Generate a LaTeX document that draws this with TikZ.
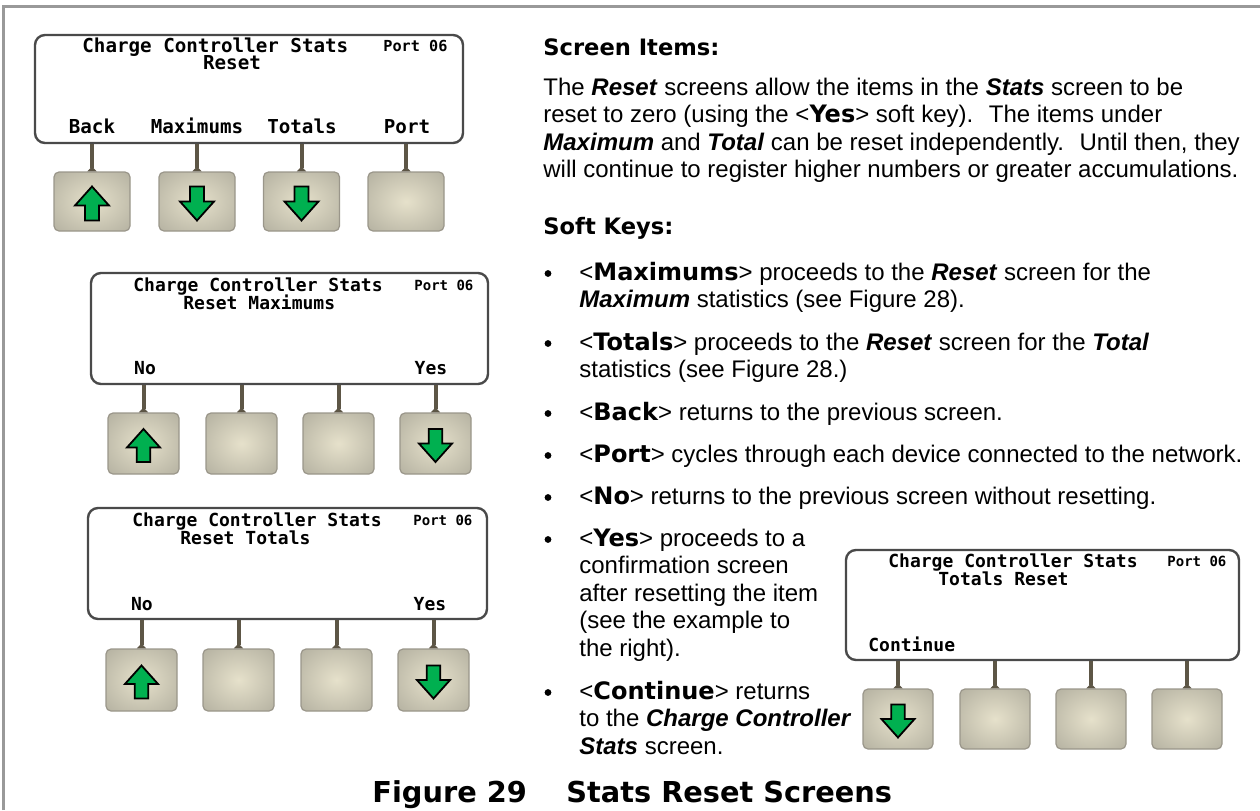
\documentclass[tikz,border=0pt]{standalone}
\usepackage{fontspec}
\setmainfont{Liberation Sans}
\newfontfamily\heavyfont{DejaVu Sans}
\newfontfamily\lcdfont{DejaVu Sans Mono}
\usetikzlibrary{positioning,arrows.meta}
\definecolor{keygray}{HTML}{B1AE9E}
\definecolor{keyglow}{HTML}{E6E1CB}
\definecolor{keyline}{HTML}{9A968A}
\definecolor{stemcol}{HTML}{5D5646}
\definecolor{arrgreen}{HTML}{00B050}
\definecolor{framegray}{HTML}{999999}
\definecolor{lcdline}{HTML}{4A4A4A}
\newcommand{\sk}[1]{<{\heavyfont\bfseries #1}>}
\newcommand{\bi}[1]{\textbf{\textit{#1}}}
\pgfdeclareradialshading{keyshade}{\pgfpoint{0bp}{0bp}}{color(0bp)=(keyglow); color(38bp)=(keygray); color(50bp)=(keygray)}

\begin{document}
\begin{tikzpicture}[x=0.5pt,y=-0.5pt,
  screen/.style={draw=lcdline,line width=1.2pt,rounded corners=5pt,fill=white,inner sep=0pt},
  softkey/.style={draw=keyline,line width=0.6pt,rounded corners=2.5pt,shade,shading=keyshade,inner sep=0pt},
  lcd/.style={font=\lcdfont\bfseries\fontsize{9pt}{10pt}\selectfont,inner sep=0pt},
  lcdbig/.style={font=\lcdfont\bfseries\fontsize{9.6pt}{10pt}\selectfont,inner sep=0pt},
  lcdport/.style={font=\lcdfont\bfseries\fontsize{7pt}{8pt}\selectfont,inner sep=0pt,anchor=base west},
  keystem/.style={draw=stemcol,line width=2pt,-{Triangle[reversed,width=4.5pt,length=2.5pt]}},
  bodytxt/.style={font=\fontsize{12pt}{13.75pt}\selectfont,align=left,inner sep=0pt,anchor=base west},
  headtxt/.style={font=\heavyfont\bfseries\fontsize{11.3pt}{13pt}\selectfont,inner sep=0pt,anchor=base west},
  capt/.style={font=\heavyfont\bfseries\fontsize{14.4pt}{16pt}\selectfont,inner sep=0pt,anchor=base west},
  uparr/.pic={\draw[fill=arrgreen,line width=0.9pt,line join=miter]
    (0,-17) -- (17,2) -- (7,2) -- (7,17) -- (-7,17) -- (-7,2) -- (-17,2) -- cycle;},
  dnarr/.pic={\draw[fill=arrgreen,line width=0.9pt,line join=miter]
    (0,17) -- (17,-2) -- (7,-2) -- (7,-17) -- (-7,-17) -- (-7,-2) -- (-17,-2) -- cycle;}]
  \useasboundingbox (0,0) rectangle (1260,810);
  \draw[framegray,line width=1.5pt] (3.5,810) -- (3.5,6.5) -- (1260,6.5);

  % Reset screen
  \node[screen,minimum width=214pt,minimum height=54pt] (scrA) at (249,89) {};
  \node[lcdbig,anchor=base west] (tA) at (82,52) {Charge Controller Stats};
  \node[lcdport,font=\lcdfont\bfseries\fontsize{7.6pt}{8pt}\selectfont] (pA) at (383,51) {Port 06};
  \node[lcdbig,anchor=base] (rA) at (232,69) {Reset};
  \node[lcdbig,anchor=base] (lA1) at (92,133) {Back};
  \node[lcdbig,anchor=base] (lA2) at (197,133) {Maximums};
  \node[lcdbig,anchor=base] (lA3) at (302,133) {Totals};
  \node[lcdbig,anchor=base] (lA4) at (407,133) {Port};
  \foreach \x [count=\i] in {92,197,301.5,406}
    \node[softkey,minimum width=38pt,minimum height=29.5pt] (kA\i) at (\x,201.5) {};
  \foreach \i in {1,...,4}
    \draw[keystem] (kA\i |- scrA.south) -- (kA\i.north);
  \pic at ([yshift=-1pt]kA1.center) {uparr};
  \pic at ([yshift=-1pt]kA2.center) {dnarr};
  \pic at ([yshift=-1pt]kA3.center) {dnarr};

  % Reset Maximums screen
  \node[screen,minimum width=198.5pt,minimum height=55.5pt] (scrB) at (289.5,328.5) {};
  \node[lcd,anchor=base west] (tB) at (133,291) {Charge Controller Stats};
  \node[lcdport] (pB) at (414,290) {Port 06};
  \node[lcd,anchor=base west] (rB) at (183,309) {Reset Maximums};
  \node[lcd,anchor=base] (lB1) at (145,374) {No};
  \node[lcd,anchor=base] (lB4) at (431,374) {Yes};
  \foreach \x [count=\i] in {143.5,241.5,338.5,435.5}
    \node[softkey,minimum width=35.5pt,minimum height=30.5pt] (kB\i) at (\x,443.5) {};
  \foreach \i in {1,...,4}
    \draw[keystem] (kB\i |- scrB.south) -- (kB\i.north);
  \pic[scale=0.97] at ([yshift=-1pt]kB1.center) {uparr};
  \pic[scale=0.97] at ([yshift=-1pt]kB4.center) {dnarr};

  % Reset Totals screen
  \node[screen,minimum width=199.5pt,minimum height=55.5pt] (scrC) at (287.5,563.5) {};
  \node[lcd,anchor=base west] (tC) at (132,526) {Charge Controller Stats};
  \node[lcdport] (pC) at (413,525) {Port 06};
  \node[lcd,anchor=base west] (rC) at (180,544) {Reset Totals};
  \node[lcd,anchor=base] (lC1) at (142,610) {No};
  \node[lcd,anchor=base] (lC4) at (430,610) {Yes};
  \foreach \x [count=\i] in {141.5,238.5,336.5,433.5}
    \node[softkey,minimum width=35.5pt,minimum height=31pt] (kC\i) at (\x,680) {};
  \foreach \i in {1,...,4}
    \draw[keystem] (kC\i |- scrC.south) -- (kC\i.north);
  \pic[scale=0.97] at ([yshift=-1pt]kC1.center) {uparr};
  \pic[scale=0.97] at ([yshift=-1pt]kC4.center) {dnarr};

  % Totals Reset confirmation screen
  \node[screen,minimum width=196.5pt,minimum height=55pt] (scrD) at (1042.5,605) {};
  \node[lcd,anchor=base west] (tD) at (888,567) {Charge Controller Stats};
  \node[lcdport] (pD) at (1167,566) {Port 06};
  \node[lcd,anchor=base west] (rD) at (938,585) {Totals Reset};
  \node[lcd,anchor=base west] (lD1) at (868,651) {Continue};
  \foreach \x [count=\i] in {898,995,1091,1187}
    \node[softkey,minimum width=35pt,minimum height=30pt] (kD\i) at (\x,719) {};
  \foreach \i in {1,...,4}
    \draw[keystem] (kD\i |- scrD.south) -- (kD\i.north);
  \pic[scale=0.97] at ([yshift=-1pt]kD1.center) {dnarr};

  % text column (base = last line)
  \node[headtxt] (hItems) at (543,55) {Screen Items:};
  \node[bodytxt] (pReset) at (543,177.5) {The \bi{Reset} screens allow the items in the \bi{Stats} screen to be\\
    reset to zero (using the \sk{Yes} soft key).~ The items under\\
    \bi{Maximum} and \bi{Total} can be reset independently.~ Until then, they\\
    will continue to register higher numbers or greater accumulations.};
  \node[headtxt] (hKeys) at (543,234) {Soft Keys:};
  \node[bodytxt] (bMax) at (579,307.5) {\sk{Maximums} proceeds to the \bi{Reset} screen for the\\
    \bi{Maximum} statistics (see Figure 28).};
  \node[bodytxt] (bTot) at (579,377.5) {\sk{Totals} proceeds to the \bi{Reset} screen for the \bi{Total}\\
    statistics (see Figure 28.)};
  \node[bodytxt] (bBack) at (579,420) {\sk{Back} returns to the previous screen.};
  \node[bodytxt] (bPort) at (579,462) {\sk{Port} cycles through each device connected to the network.};
  \node[bodytxt] (bNo) at (579,504) {\sk{No} returns to the previous screen without resetting.};
  \node[bodytxt] (bYes) at (579,656) {\sk{Yes} proceeds to a\\ confirmation screen\\
    after resetting the item\\ (see the example to\\ the right).};
  \node[bodytxt] (bCont) at (579,754) {\sk{Continue} returns\\ to the \bi{Charge Controller}\\
    \bi{Stats} screen.};
  \foreach \y in {280,350,420,462,504,546,699}
    \fill (548,\y-6.5) circle (1.7pt);

  % caption
  \node[capt] (capNum) at (372,802) {Figure 29};
  \node[capt] (capTitle) at (566,802) {Stats Reset Screens};
\end{tikzpicture}
\end{document}
